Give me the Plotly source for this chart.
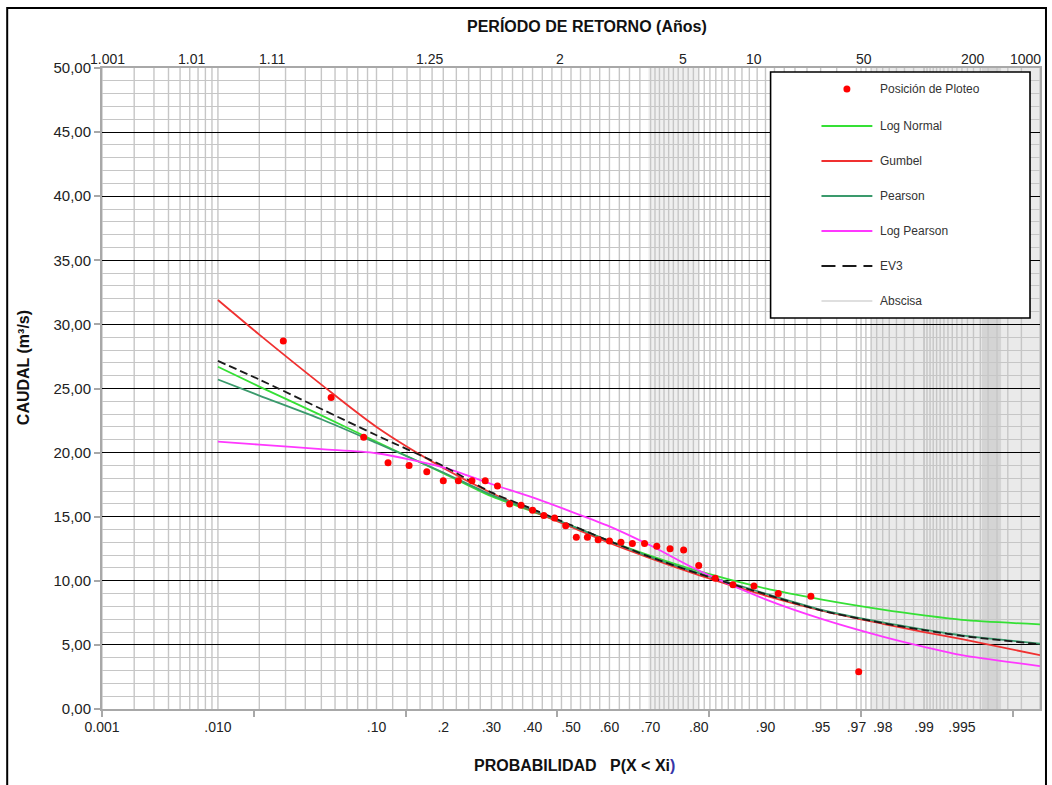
import numpy as np
import plotly.graph_objects as go
from statistics import NormalDist

# ---------------- DATA ----------------
# Plotting positions P(X < Xi) and observed discharges (m3/s)
plot_prob = [0.029, 0.057, 0.086, 0.114, 0.143, 0.171, 0.200, 0.229, 0.257, 0.286,
             0.314, 0.343, 0.371, 0.400, 0.429, 0.457, 0.486, 0.514, 0.543, 0.571,
             0.600, 0.629, 0.657, 0.686, 0.714, 0.743, 0.771, 0.800, 0.829, 0.857,
             0.886, 0.914, 0.943, 0.971]
plot_q = [28.7, 24.3, 21.2, 19.2, 19.0, 18.5, 17.8, 17.8, 17.8, 17.8,
          17.4, 16.0, 15.9, 15.5, 15.1, 14.9, 14.3, 13.4, 13.4, 13.2,
          13.1, 13.0, 12.9, 12.9, 12.7, 12.5, 12.4, 11.2, 10.2, 9.7,
          9.6, 9.0, 8.8, 2.9]

# Fitted distributions read at these probabilities
curve_prob = [0.01, 0.02, 0.05, 0.10, 0.20, 0.30, 0.40, 0.50, 0.60, 0.70,
              0.80, 0.90, 0.95, 0.98, 0.99, 0.995, 0.999]
q_lognormal = [26.7, 25.15, 22.9, 20.85, 18.4, 16.6, 15.4, 14.3, 13.1, 11.95,
               10.75, 9.4, 8.55, 7.75, 7.3, 6.95, 6.6]
q_gumbel = [31.9, 29.2, 25.3, 22.0, 18.8, 16.85, 15.45, 14.2, 12.95, 11.75,
            10.45, 8.85, 7.7, 6.65, 6.0, 5.45, 4.2]
q_pearson = [25.7, 24.45, 22.6, 20.75, 18.45, 16.7, 15.5, 14.3, 13.1, 11.85,
             10.6, 9.0, 7.75, 6.75, 6.2, 5.75, 5.1]
q_logpearson = [20.85, 20.62, 20.27, 19.95, 18.85, 17.55, 16.5, 15.4, 14.25, 12.75,
                10.8, 8.55, 7.05, 5.65, 4.85, 4.2, 3.35]
q_ev3 = [27.15, 25.7, 23.4, 21.35, 18.95, 16.9, 15.6, 14.35, 13.1, 11.85,
         10.55, 8.95, 7.7, 6.7, 6.15, 5.7, 5.05]

series_names = ["Posición de Ploteo", "Log Normal", "Gumbel", "Pearson",
                "Log Pearson", "EV3", "Abscisa"]

# Axis labels
prob_tick_values = [0.001, 0.01, 0.10, 0.2, 0.30, 0.40, 0.50, 0.60, 0.70, 0.80,
                    0.90, 0.95, 0.97, 0.98, 0.99, 0.995, 0.999]
prob_tick_text = ["0.001", ".010", ".10", ".2", ".30", ".40", ".50", ".60", ".70", ".80",
                  ".90", ".95", ".97", ".98", ".99", ".995", ".999"]
return_period_text = ["1.001", "1.01", "1.11", "1.25", "2", "5", "10", "50", "200", "1000"]

# ---------------- STYLE / LAYOUT ----------------
FONT = "Liberation Sans, Arial, sans-serif"
W_FIG, H_FIG = 1052, 785
L, R, T, B = 102, 10, 68, 76
PW, PH = W_FIG - L - R, H_FIG - T - B
BOTTOM = H_FIG - B

def fx(px):
    return (px - L) / PW

def fy(py):
    return (BOTTOM - py) / PH

nd = NormalDist()
def z(p):
    return nd.inv_cdf(p)

colors = {"Posición de Ploteo": "#ff0000", "Log Normal": "#35e035", "Gumbel": "#f03030",
          "Pearson": "#3a9a6c", "Log Pearson": "#ff38ff", "EV3": "#1a1a1a", "Abscisa": "#c0c0c0"}

fig = go.Figure()

curves = [("Log Normal", q_lognormal), ("Gumbel", q_gumbel), ("Pearson", q_pearson),
          ("Log Pearson", q_logpearson), ("EV3", q_ev3)]
zc = [z(p) for p in curve_prob]
for name, q in curves:
    fig.add_trace(go.Scatter(
        x=zc, y=q, mode="lines", name=name, showlegend=False,
        line=dict(color=colors[name], width=1.8, shape="spline", smoothing=0.8,
                  dash="8px,4px" if name == "EV3" else "solid"),
    ))

fig.add_trace(go.Scatter(
    x=[z(p) for p in plot_prob], y=plot_q, mode="markers", name=series_names[0],
    showlegend=False, marker=dict(color=colors["Posición de Ploteo"], size=7),
))

# vertical probability grid (styling)
grid_p = (list(np.arange(0.001, 0.0095, 0.001)) + list(np.arange(0.01, 0.095, 0.01)) +
          list(np.arange(0.10, 0.195, 0.02)) + list(np.arange(0.20, 0.70, 0.025)) +
          list(np.arange(0.70, 0.97, 0.01)) +
          list(np.arange(0.97, 0.99, 0.002)) + list(np.arange(0.99, 0.9991, 0.0005)))
shapes = []
bands = [(0.695, 0.80, "#efefef"), (0.976, 0.999, "#eaeaea"), (0.9966, 0.9977, "#d4d4d4")]
for a, b, c in bands:
    shapes.append(dict(type="rect", xref="x", yref="paper", x0=z(a), x1=z(b), y0=0, y1=1,
                       fillcolor=c, line=dict(width=0), layer="below"))
for p in grid_p:
    if 0.0009 < p < 0.9995:
        shapes.append(dict(type="line", xref="x", yref="paper", x0=z(p), x1=z(p), y0=0, y1=1,
                           line=dict(color="#c6c6c6", width=1.4), layer="below"))

# outer frame
shapes.append(dict(type="rect", xref="paper", yref="paper", x0=fx(7), x1=fx(1048),
                   y0=fy(800), y1=fy(8), line=dict(color="black", width=2),
                   fillcolor="rgba(0,0,0,0)", layer="above"))

# custom legend
LEG_X0, LEG_X1, LEG_Y0, LEG_Y1 = 772, 1032, 72, 318
shapes.append(dict(type="rect", xref="paper", yref="paper", x0=fx(LEG_X0), x1=fx(LEG_X1),
                   y0=fy(LEG_Y1), y1=fy(LEG_Y0), line=dict(color="black", width=1.6),
                   fillcolor="white", layer="above"))
leg_rows = [89, 126, 161, 196, 231, 266, 301]
annotations = []
for name, row in zip(series_names, leg_rows):
    if name == "Posición de Ploteo":
        shapes.append(dict(type="circle", xref="paper", yref="paper",
                           x0=fx(845), x1=fx(852), y0=fy(row + 3.5), y1=fy(row - 3.5),
                           fillcolor=colors[name], line=dict(width=0), layer="above"))
    else:
        shapes.append(dict(type="line", xref="paper", yref="paper",
                           x0=fx(823), x1=fx(874), y0=fy(row), y1=fy(row),
                           line=dict(color=colors[name], width=1.8 if name != "Abscisa" else 1.2,
                                     dash="14px,7px" if name == "EV3" else "solid"),
                           layer="above"))
    annotations.append(dict(xref="paper", yref="paper", x=fx(880), y=fy(row), text=name,
                            showarrow=False, xanchor="left", yanchor="middle",
                            font=dict(family=FONT, size=12, color="#333333")))

# top (return period) labels
top_label_px = [108, 192, 272, 430, 561, 684, 755, 866, 975, 1027]
for txt, px in zip(return_period_text, top_label_px):
    annotations.append(dict(xref="paper", yref="paper", x=fx(px), y=fy(59), text=txt,
                            showarrow=False, xanchor="center", yanchor="middle",
                            font=dict(family=FONT, size=14, color="#222222")))

# titles
annotations.append(dict(xref="paper", yref="paper", x=fx(588), y=fy(26),
                        text="<b>PERÍODO DE RETORNO (Años)</b>", showarrow=False,
                        xanchor="center", yanchor="middle",
                        font=dict(family=FONT, size=16, color="#111111")))
annotations.append(dict(xref="paper", yref="paper", x=fx(576), y=fy(765),
                        text="<b>PROBABILIDAD   P(X &lt; Xi<span style='color:#3535a8'>)</span></b>",
                        showarrow=False, xanchor="center", yanchor="middle",
                        font=dict(family=FONT, size=16, color="#111111")))
annotations.append(dict(xref="paper", yref="paper", x=fx(23), y=fy(368),
                        text="<b>CAUDAL (m³/s)</b>", showarrow=False, textangle=-90,
                        xanchor="center", yanchor="middle",
                        font=dict(family=FONT, size=16, color="#111111")))

zmin, zmax = z(0.001), z(0.999)
fig.update_layout(
    width=W_FIG, height=H_FIG, autosize=False,
    margin=dict(l=L, r=R, t=T, b=B, pad=0),
    paper_bgcolor="white", plot_bgcolor="white",
    separators=",.",
    font=dict(family=FONT, color="#222222"),
    shapes=shapes, annotations=annotations,
    showlegend=False,
    xaxis=dict(range=[zmin, zmax], showgrid=False, zeroline=False,
               tickmode="array", tickvals=[z(p) for p in prob_tick_values],
               ticktext=prob_tick_text, ticks="", ticklabelstandoff=4,
               tickfont=dict(family=FONT, size=14, color="#222222"),
               showline=True, linecolor="#a8a8a8", linewidth=2, mirror=True,
               minor=dict(tickmode="array", tickvals=[zmin + k for k in range(7)],
                          ticks="outside", ticklen=6, tickcolor="#a8a8a8", tickwidth=1.5,
                          showgrid=False)),
    yaxis=dict(range=[0, 50], dtick=5, tick0=0, tickformat=".2f",
               showgrid=True, gridcolor="#000000", gridwidth=1, zeroline=False,
               ticks="outside", ticklen=6, tickcolor="#a8a8a8", tickwidth=1.5,
               tickfont=dict(family=FONT, size=15, color="#222222"),
               showline=True, linecolor="#a8a8a8", linewidth=2, mirror=True,
               minor=dict(dtick=1, showgrid=True, gridcolor="#c6c6c6", gridwidth=1.4,
                          ticks="")),
)

fig.write_html("out.html", config={"displayModeBar": False},
               post_script="document.body.style.margin='0';document.body.style.overflow='hidden';")
